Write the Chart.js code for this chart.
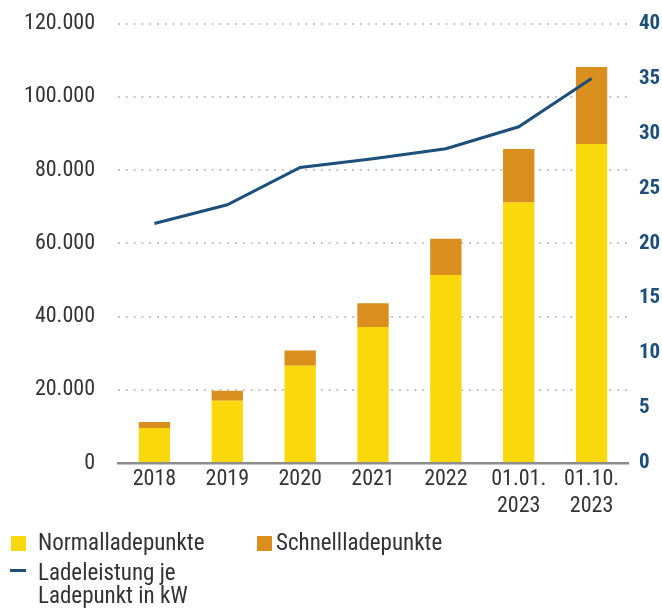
<!DOCTYPE html>
<html lang="de">
<head>
<meta charset="utf-8">
<script src="https://cdn.jsdelivr.net/npm/chart.js@4/dist/chart.umd.min.js"></script>
<style>
  html, body { margin: 0; padding: 0; background: #fff; }
  #wrap { position: relative; width: 662px; height: 608px; }
  #chart { position: absolute; left: 0; top: 0; }
  .leg { position: absolute; font-family: "Liberation Sans Narrow", "Roboto Condensed", Roboto, sans-serif;
         font-size: 23px; color: #333; line-height: 23px; white-space: nowrap; }
  .sw { position: absolute; }
</style>
</head>
<body>
<div id="wrap">
  <canvas id="chart" width="662" height="608"></canvas>
  <div class="sw" style="left:11px;top:536px;width:15px;height:15px;background:#F9D90C"></div>
  <div class="leg" style="left:38px;top:531px">Normalladepunkte</div>
  <div class="sw" style="left:257px;top:536px;width:15px;height:15px;background:#DA8E1E"></div>
  <div class="leg" style="left:276px;top:531px">Schnellladepunkte</div>
  <div class="sw" style="left:10px;top:569px;width:16px;height:3px;background:#1C4F7A"></div>
  <div class="leg" style="left:38px;top:561px">Ladeleistung je<br>Ladepunkt in kW</div>
</div>
<script>
// Ladepunkte in Deutschland und durchschnittliche Ladeleistung
const categories = ['2018', '2019', '2020', '2021', '2022', ['01.01.', '2023'], ['01.10.', '2023']];
const normalladepunkte = [9550, 17000, 26550, 37100, 51300, 71100, 87100];
const schnellladepunkte = [1650, 2750, 4150, 6550, 9900, 14650, 21050];
const ladeleistungKW = [21.8, 23.5, 26.9, 27.7, 28.6, 30.6, 35.0];
const leftTicks = [0, 20000, 40000, 60000, 80000, 100000, 120000];
const rightTicks = [0, 5, 10, 15, 20, 25, 30, 35, 40];

const FONT = '"Liberation Sans Narrow", "Roboto Condensed", Roboto, sans-serif';
const YELLOW = '#F9D90C', ORANGE = '#DA8E1E', BLUE = '#1C4F7A', TEXT = '#333333';

const fmt = v => v.toLocaleString('de-DE');

// fixed axis widths; the vertical label overflow is covered by layout padding
const fitVertical = w => s => { s.width = w; s.paddingTop = 0; s.paddingBottom = 0; };

new Chart(document.getElementById('chart'), {
  data: {
    labels: categories,
    datasets: [
      {
        type: 'line', label: 'Ladeleistung je Ladepunkt in kW', data: ladeleistungKW,
        yAxisID: 'y1', borderColor: BLUE, borderWidth: 3, pointRadius: 0,
        tension: 0, order: 0
      },
      {
        type: 'bar', label: 'Normalladepunkte', data: normalladepunkte,
        backgroundColor: YELLOW, yAxisID: 'y', stack: 's', order: 1,
        barPercentage: 0.43, categoryPercentage: 1
      },
      {
        type: 'bar', label: 'Schnellladepunkte', data: schnellladepunkte,
        backgroundColor: ORANGE, yAxisID: 'y', stack: 's', order: 1,
        barPercentage: 0.43, categoryPercentage: 1
      }
    ]
  },
  options: {
    responsive: false,
    animation: false,
    layout: { padding: { top: 23.5, left: 0, right: 0, bottom: 0 } },
    plugins: { legend: { display: false }, tooltip: { enabled: false } },
    scales: {
      x: {
        stacked: true,
        grid: { display: false, drawTicks: false },
        border: { display: true, color: '#8c8c8c', width: 2.5 },
        ticks: { color: TEXT, padding: 3, maxRotation: 0, autoSkip: false,
                 font: { family: FONT, size: 22, lineHeight: 1.22 } },
        afterFit: s => { s.height = 145; }
      },
      y: {
        position: 'left', stacked: true, min: 0, max: 120000,
        afterBuildTicks: s => { s.ticks = leftTicks.map(v => ({ value: v })); },
        grid: { color: c => c.tick.value === 0 ? 'rgba(0,0,0,0)' : '#c6c6c6',
                lineWidth: 2, drawTicks: false },
        border: { display: false, dash: [2, 5.8] },
        ticks: { color: TEXT, padding: 23, callback: v => fmt(v),
                 font: { family: FONT, size: 22 } },
        afterFit: fitVertical(118)
      },
      y1: {
        position: 'right', min: 0, max: 40,
        afterBuildTicks: s => { s.ticks = rightTicks.map(v => ({ value: v })); },
        grid: { display: false, drawTicks: false },
        border: { display: false },
        ticks: { color: BLUE, padding: 11,
                 font: { family: FONT, size: 21, weight: 'bold' } },
        afterFit: fitVertical(34)
      }
    }
  }
});
</script>
</body>
</html>
